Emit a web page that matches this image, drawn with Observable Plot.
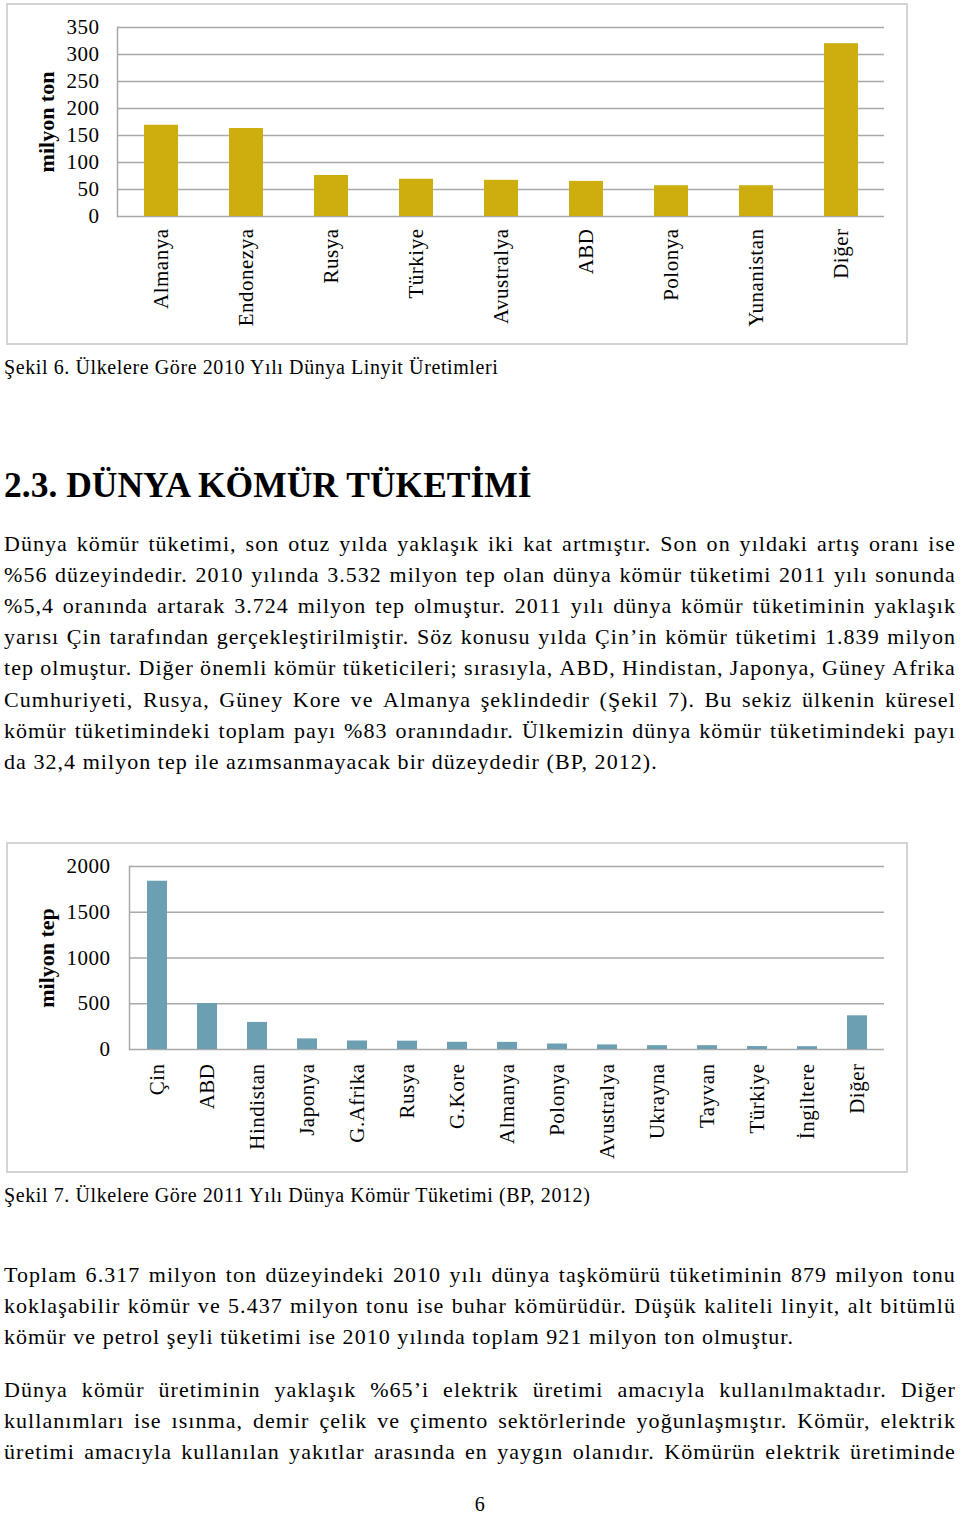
<!DOCTYPE html>
<html><head><meta charset="utf-8">
<script src="https://cdn.jsdelivr.net/npm/d3@7"></script>
<script src="https://cdn.jsdelivr.net/npm/@observablehq/plot@0.6"></script>
<style>
body{margin:0;width:960px;height:1517px;position:relative;background:#fff;font-family:"Liberation Serif",serif;color:#000;overflow:hidden}
.box{position:absolute;border:2px solid #d4d4d4;box-sizing:border-box}
.chart{position:absolute;left:0}
.line{position:absolute;left:4px;width:952px;height:31px;font-size:22px;line-height:31px;letter-spacing:1.05px;white-space:nowrap}
.cap{font-size:20px;letter-spacing:0.6px}
.just{display:flex;justify-content:space-between}
.head{position:absolute;left:4px;top:465px;font-size:35.5px;line-height:40px;font-weight:bold;white-space:nowrap}
g[aria-label="y-axis label"] text{font-weight:bold;font-size:22px;letter-spacing:0}
</style>
</head><body>
<div class="box" style="left:6px;top:3px;width:902px;height:342px"></div>
<div class="box" style="left:6px;top:842px;width:902px;height:331px"></div>
<div id="c1" class="chart" style="top:0px"></div>
<div id="c2" class="chart" style="top:840px"></div>
<div id="text"></div>
<script>
// ---- Şekil 6 data ----
const linyitUlkeler = ["Almanya","Endonezya","Rusya","Türkiye","Avustralya","ABD","Polonya","Yunanistan","Diğer"];
const linyitUretim = [169, 163, 76, 69, 67, 65, 57, 57, 320];
const linyitTicks = [0, 50, 100, 150, 200, 250, 300, 350];

// ---- Şekil 7 data ----
const komurUlkeler = ["Çin","ABD","Hindistan","Japonya","G.Afrika","Rusya","G.Kore","Almanya","Polonya","Avustralya","Ukrayna","Tayvan","Türkiye","İngiltere","Diğer"];
const komurTuketim = [1839, 502, 296, 116, 93, 91, 79, 78, 60, 50, 42, 42, 32, 31, 368];
const komurTicks = [0, 500, 1000, 1500, 2000];

const caption6 = "Şekil 6. Ülkelere Göre 2010 Yılı Dünya Linyit Üretimleri";
const heading = "2.3. DÜNYA KÖMÜR TÜKETİMİ";
const para1 = [
  "Dünya kömür tüketimi, son otuz yılda yaklaşık iki kat artmıştır. Son on yıldaki artış oranı ise",
  "%56 düzeyindedir. 2010 yılında 3.532 milyon tep olan dünya kömür tüketimi 2011 yılı sonunda",
  "%5,4 oranında artarak 3.724 milyon tep olmuştur. 2011 yılı dünya kömür tüketiminin yaklaşık",
  "yarısı Çin tarafından gerçekleştirilmiştir. Söz konusu yılda Çin’in kömür tüketimi 1.839 milyon",
  "tep olmuştur. Diğer önemli kömür tüketicileri; sırasıyla, ABD, Hindistan, Japonya, Güney Afrika",
  "Cumhuriyeti, Rusya, Güney Kore ve Almanya şeklindedir (Şekil 7). Bu sekiz ülkenin küresel",
  "kömür tüketimindeki toplam payı %83 oranındadır. Ülkemizin dünya kömür tüketimindeki payı",
  "da 32,4 milyon tep ile azımsanmayacak bir düzeydedir (BP, 2012)."
];
const caption7 = "Şekil 7. Ülkelere Göre 2011 Yılı Dünya Kömür Tüketimi (BP, 2012)";
const para2 = [
  "Toplam 6.317 milyon ton düzeyindeki 2010 yılı dünya taşkömürü tüketiminin 879 milyon tonu",
  "koklaşabilir kömür ve 5.437 milyon tonu ise buhar kömürüdür. Düşük kaliteli linyit, alt bitümlü",
  "kömür ve petrol şeyli tüketimi ise 2010 yılında toplam 921 milyon ton olmuştur."
];
const para3 = [
  "Dünya kömür üretiminin yaklaşık %65’i elektrik üretimi amacıyla kullanılmaktadır. Diğer",
  "kullanımları ise ısınma, demir çelik ve çimento sektörlerinde yoğunlaşmıştır. Kömür, elektrik",
  "üretimi amacıyla kullanılan yakıtlar arasında en yaygın olanıdır. Kömürün elektrik üretiminde"
];
const pageNumber = "6";

const linyit = linyitUlkeler.map((u, i) => ({ulke: u, deger: linyitUretim[i]}));
const komur = komurUlkeler.map((u, i) => ({ulke: u, deger: komurTuketim[i]}));

const gridColor = "#a9a9a9";
const baseStyle = {fontFamily: "'Liberation Serif', serif", fontSize: "21px", letterSpacing: "0.5px", color: "#000", background: "transparent", overflow: "visible"};
const fmt = d => String(d);

const chart1 = Plot.plot({
  width: 960, height: 344,
  marginLeft: 117, marginRight: 76, marginTop: 27, marginBottom: 128,
  style: baseStyle,
  x: {domain: linyitUlkeler, paddingInner: 0.6, paddingOuter: 0.3, label: null},
  y: {domain: [0, 350], label: "milyon ton"},
  marks: [
    Plot.gridY(linyitTicks, {stroke: gridColor, strokeOpacity: 1, strokeWidth: 1.5}),
    Plot.frame({anchor: "left", stroke: gridColor, strokeWidth: 1.5}),
    Plot.barY(linyit, {x: "ulke", y: "deger", fill: "#cdae0e"}),
    Plot.axisY(linyitTicks, {tickSize: 0, tickPadding: 18, tickFormat: fmt, label: "milyon ton", labelAnchor: "center", labelArrow: "none", labelOffset: 79}),
    Plot.axisX({tickRotate: -90, tickSize: 0, tickPadding: 12, label: null})
  ]
});
document.getElementById("c1").appendChild(chart1);

const chart2 = Plot.plot({
  width: 960, height: 335,
  marginLeft: 129, marginRight: 76, marginTop: 26, marginBottom: 126,
  style: baseStyle,
  x: {domain: komurUlkeler, paddingInner: 0.6, paddingOuter: 0.3, label: null},
  y: {domain: [0, 2000], label: "milyon tep"},
  marks: [
    Plot.gridY(komurTicks, {stroke: gridColor, strokeOpacity: 1, strokeWidth: 1.5}),
    Plot.frame({anchor: "left", stroke: gridColor, strokeWidth: 1.5}),
    Plot.barY(komur, {x: "ulke", y: "deger", fill: "#6b9fb1"}),
    Plot.axisY(komurTicks, {tickSize: 0, tickPadding: 19, tickFormat: fmt, label: "milyon tep", labelAnchor: "center", labelArrow: "none", labelOffset: 91}),
    Plot.axisX({tickRotate: -90, tickSize: 0, tickPadding: 14, label: null})
  ]
});
document.getElementById("c2").appendChild(chart2);

// ---- text ----
const host = document.getElementById("text");
function addLine(str, top, justify, extraClass) {
  const d = document.createElement("div");
  d.className = "line" + (justify ? " just" : "") + (extraClass ? " " + extraClass : "");
  d.style.top = top + "px";
  if (justify) {
    for (const w of str.split(" ")) {
      const s = document.createElement("span");
      s.textContent = w;
      d.appendChild(s);
    }
  } else {
    d.textContent = str;
  }
  host.appendChild(d);
  return d;
}
function addPara(lines, top, justifyLast) {
  lines.forEach((l, i) => addLine(l, top + i * 31.1, i < lines.length - 1 || justifyLast));
}
addLine(caption6, 352, false, "cap");
const h = document.createElement("div");
h.className = "head"; h.textContent = heading; host.appendChild(h);
addPara(para1, 528, false);
addLine(caption7, 1180, false, "cap");
addPara(para2, 1259, false);
addPara(para3, 1374, true);
const pn = addLine(pageNumber, 1489, false, "cap");
pn.style.textAlign = "center";
</script>
</body></html>
